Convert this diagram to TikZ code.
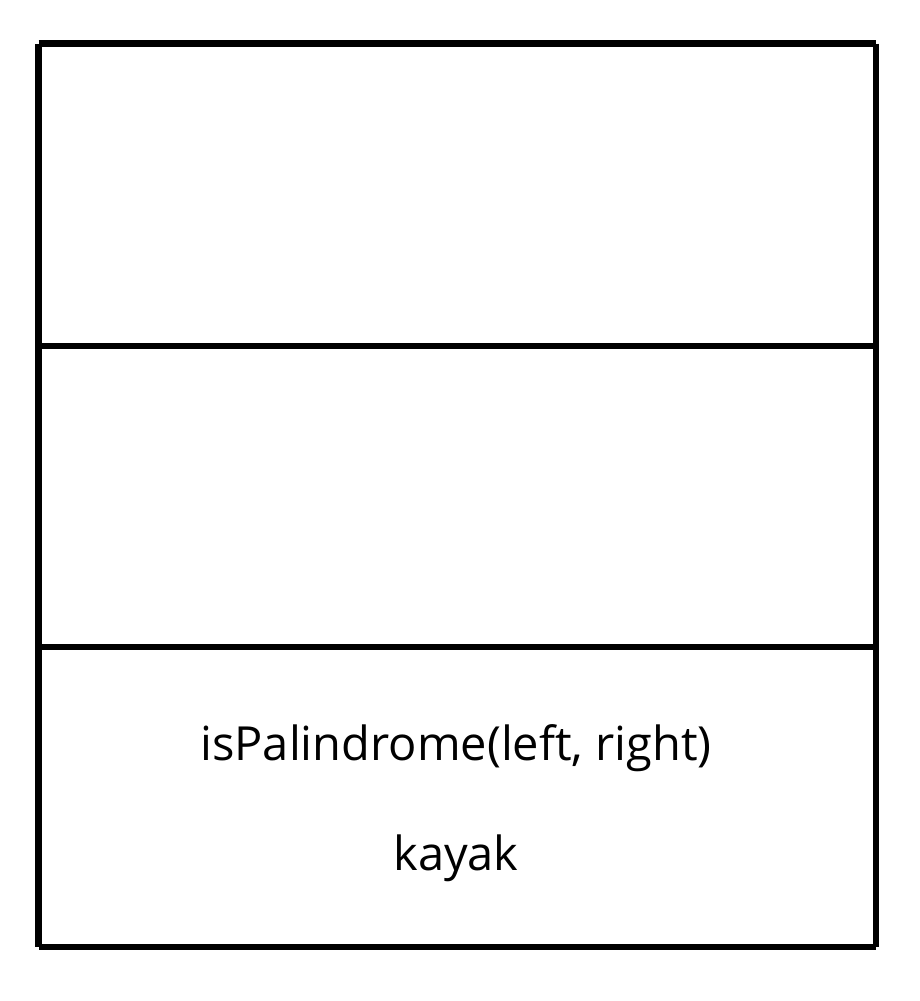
\documentclass[tikz,border=0pt]{standalone}
\usepackage{fontspec}
\setmainfont{Open Sans}
\begin{document}
\begin{tikzpicture}[x=1pt,y=-1pt,
  frame/.style={line width=6.5pt,line cap=butt},
  label/.style={font=\fontsize{47}{56}\selectfont,anchor=base,inner sep=0pt}]
\useasboundingbox (0,0) rectangle (919,1001);
\coordinate (tl) at (38.5,43.5);
\coordinate (tr) at (876,43.5);
\coordinate (bl) at (38.5,947);
\coordinate (br) at (876,947);
\coordinate (m1l) at (38.5,346);
\coordinate (m1r) at (876,346);
\coordinate (m2l) at (38.5,647);
\coordinate (m2r) at (876,647);
\draw[frame] (tl) -- (bl);
\draw[frame] (tr) -- (br);
\draw[frame] (tl) -- (tr);
\draw[frame] (bl) -- (br);
\draw[frame] (m1l) -- (m1r);
\draw[frame] (m2l) -- (m2r);
\node[label] (fn) at (456,760) {isPalindrome(left, right)};
\node[label] (word) at (456,870) {kayak};
\end{tikzpicture}
\end{document}
